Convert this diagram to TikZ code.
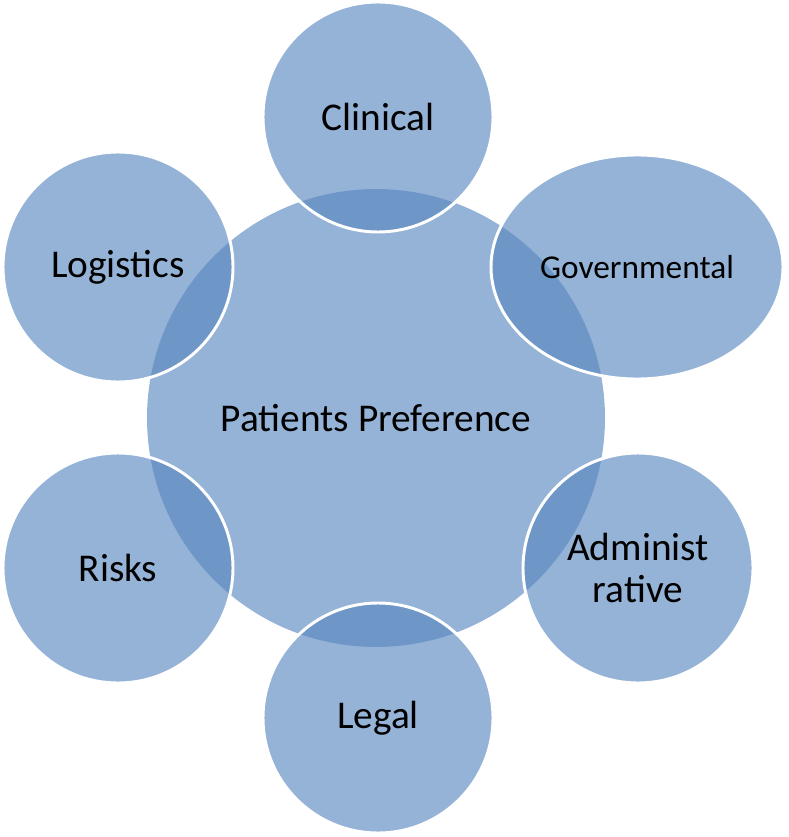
\documentclass[tikz,border=0pt]{standalone}
\usepackage{fontspec}
\setmainfont{Carlito}
\usetikzlibrary{shapes.geometric}
\definecolor{bub}{RGB}{89,136,192}
\tikzset{
  bubble/.style={circle, fill=bub, fill opacity=0.64, text opacity=1, draw=white, line width=2.2pt, inner sep=0pt, minimum size=#1, font=\fontsize{29.5}{31.5}\selectfont, align=center},
  hub/.style={circle, fill=bub, fill opacity=0.64, text opacity=1, inner sep=0pt, minimum size=458*0.75pt, font=\fontsize{29.5}{31.5}\selectfont}
}
\begin{document}
\begin{tikzpicture}[x=0.75pt,y=-0.75pt]
\useasboundingbox (0,0) rectangle (788,837);
\node[hub] (center) at (376,418) {Patients Preference};
\node[bubble=172.5pt] (clinical) at (378,117) {Clinical};
\node[bubble=172.5pt] (logistics) at (118,267) {Logistics};
\node[bubble=172.5pt] (risks) at (118,568) {Risks};
\node[bubble=172.5pt] (legal) at (378,718) {Legal};
\node[bubble=172.5pt] (admin) at (638,568) {Administ\\rative};
\node[ellipse, fill=bub, fill opacity=0.64, text opacity=1, draw=white, line width=2.2pt, inner sep=0pt, minimum width=292*0.75pt, minimum height=224*0.75pt, font=\fontsize{25}{28}\selectfont] (gov) at (637,267) {Governmental};
\end{tikzpicture}
\end{document}
